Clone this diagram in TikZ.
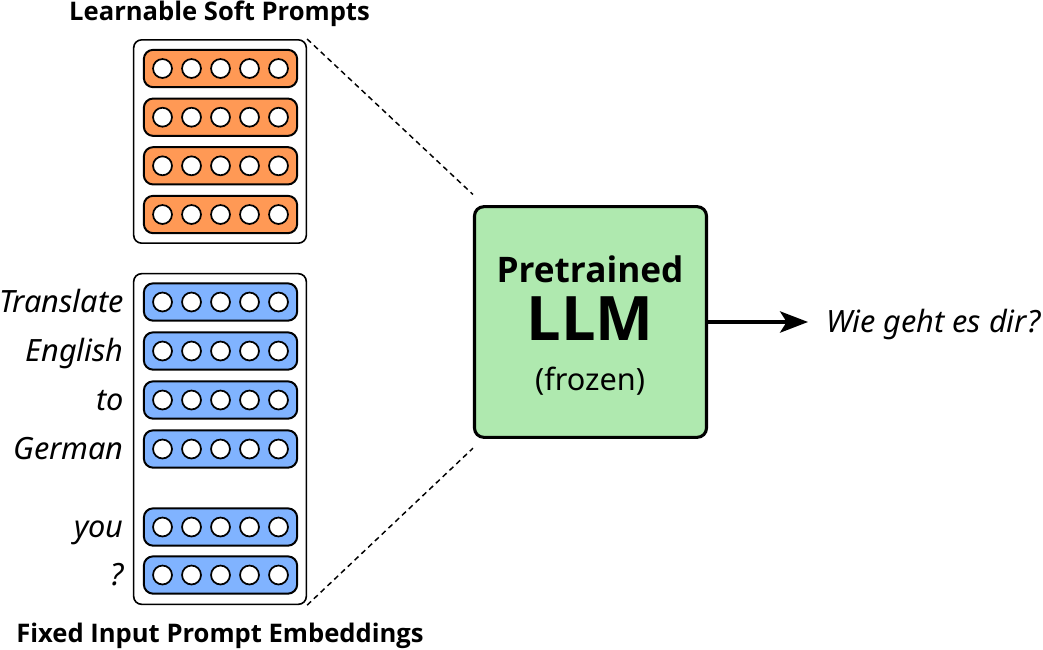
\documentclass[tikz,border=0pt]{standalone}
\usepackage{fontspec}
\setmainfont{Noto Sans}
\newfontfamily\heavyfont{Open Sans}
\usetikzlibrary{arrows.meta,positioning}
\definecolor{softorange}{RGB}{255,153,85}
\definecolor{inputblue}{RGB}{128,179,255}
\definecolor{frozengreen}{RGB}{175,233,175}

\begin{document}
\begin{tikzpicture}[x=0.75pt,y=-0.75pt,
  holder/.style={draw,line width=1.2pt,rounded corners=6pt,minimum width=129.5pt},
  token/.style={draw,line width=1.5pt,rounded corners=7pt,minimum width=115pt,minimum height=28pt},
  unit/.style={circle,draw,fill=white,line width=1.3pt,minimum size=14.2pt,inner sep=0pt},
  word/.style={anchor=base east,inner sep=0pt,font=\itshape\fontsize{23}{28}\selectfont},
  heading/.style={anchor=base,inner sep=0pt,font=\heavyfont\bfseries\fontsize{19.2}{23}\selectfont}]
\useasboundingbox (0,0) rectangle (1043,650);

\node [holder,minimum height=152.5pt] (soft) at (220,141.5) {};
\node [holder,minimum height=248pt] (fixed) at (220,439) {};
\node [heading] (softtitle) at (219.5,20) {Learnable Soft Prompts};
\node [heading] (fixedtitle) at (220,642) {Fixed Input Prompt Embeddings};

\foreach \y [count=\i] in {68.5,117.2,165.8,214.5} {
  \node [token,fill=softorange] (soft\i) at (220.5,\y) {};
  \foreach \x [count=\k] in {162.5,191.5,220.5,249.5,278.5}
    \node [unit] (soft\i-\k) at (\x,\y) {};
}

\foreach \y/\w [count=\i] in {302/Translate,351/English,400/to,449/German,527/you,575/?} {
  \node [token,fill=inputblue] (in\i) at (220.5,\y) {};
  \node [word] (word\i) at (124,\y+10.5) {\w};
  \foreach \x [count=\k] in {162.5,191.5,220.5,249.5,278.5}
    \node [unit] (in\i-\k) at (\x,\y) {};
}

\node [draw,fill=frozengreen,line width=2.3pt,rounded corners=7pt,minimum width=174pt,minimum height=173pt] (llm) at (590.5,322) {};
\node [anchor=base,inner sep=0pt,font=\heavyfont\bfseries\fontsize{26.4}{31}\selectfont] (pretrained) at (590,282) {Pretrained};
\node [anchor=base,inner sep=0pt,font=\heavyfont\bfseries\fontsize{46}{52}\selectfont] (llmname) at (590,340) {LLM};
\node [anchor=base,inner sep=0pt,font=\fontsize{23}{28}\selectfont] (frozen) at (590,390) {(frozen)};

\node [anchor=base west,inner sep=0pt,font=\itshape\fontsize{23}{28}\selectfont] (answer) at (826,332) {Wie geht es dir?};
\draw [line width=2.4pt,-{Stealth[length=21pt,width=16pt,inset=5pt]},shorten >=13.5pt] (llm.east) -- (llm.east -| answer.west);

\draw [line width=1.1pt,dash pattern=on 4pt off 3pt] (soft.north east) -- ([yshift=8pt]llm.north west);
\draw [line width=1.1pt,dash pattern=on 4pt off 3pt] (fixed.south east) -- ([yshift=-7pt]llm.south west);
\end{tikzpicture}
\end{document}
